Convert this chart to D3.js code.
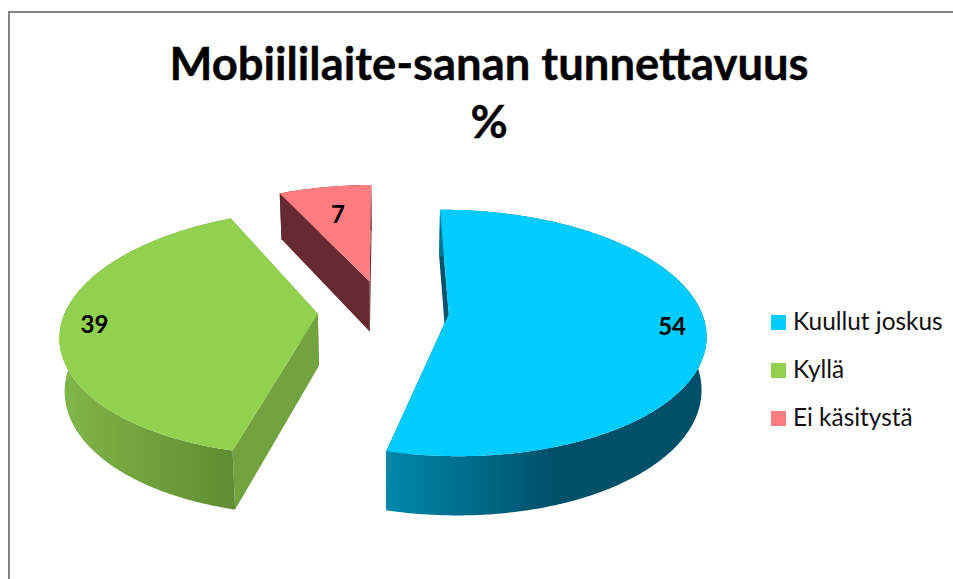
<!DOCTYPE html>
<html>
<head>
<meta charset="utf-8">
<script src="https://cdn.jsdelivr.net/npm/d3@7"></script>
<style>
  html, body { margin: 0; padding: 0; background: #fff; overflow: hidden; }
  text { font-family: Lato, "Open Sans", sans-serif; }
</style>
</head>
<body>
<div id="chart"></div>
<script>
const WIDTH = 953
const HEIGHT = 579

const titleLines = ["Mobiililaite-sanan tunnettavuus", "%"]
const categories = ["Kuullut joskus", "Kyllä", "Ei käsitystä"]
const values = [54, 39, 7]

const topColors = ["#00CCFF", "#92D050", "#FF7C80"]
const edgeColors = ["#00536C", "#72A33E", "#652B30"]
const wallColors = [["#0089AB", "#00506A"], ["#80B547", "#5F8C32"], ["#652B30", "#652B30"]]
const wallStops = [[384, 555], [65, 236], [280, 375]]
const labelRadius = [0.87, 0.87, 0.68]

// fake 3d camera, tuned by eye against the picture
const HORIZON = -474   // y of the vanishing line
const DEPTH = 6.58     // distance to pie centre, in pie radii
const K = 5162
const FOCAL = 1660
const VIEW_X = 396
const CENTER_X = -0.05
const EXPLODE = 0.26
const ROTATION = -0.008

function project(X, Z) {
  const z = DEPTH + Z
  return [VIEW_X + FOCAL * (X + CENTER_X) / z, HORIZON + K / z]
}

// drop a top point down to the pie's underside
function dropPoint(p) {
  return [p[0] + (390 - p[0]) * 0.016, p[1] + 36 + 0.051 * p[1]]
}

const svg = d3.select("#chart").append("svg")
  .attr("width", WIDTH)
  .attr("height", HEIGHT)

const defs = svg.append("defs")
const line = d3.line()

svg.append("path")
  .attr("d", `M9,${HEIGHT}V12H${WIDTH}`)
  .attr("fill", "none")
  .attr("stroke", "#868686")
  .attr("stroke-width", 2)

svg.selectAll(".title")
  .data(titleLines)
  .enter()
  .append("text")
  .attr("class", "title")
  .attr("x", 489)
  .attr("y", (d, i) => 80 + i * 58)
  .attr("text-anchor", "middle")
  .attr("font-size", 45.4)
  .attr("font-weight", 700)
  .attr("fill", "#000")
  .attr("stroke", "#000")
  .attr("stroke-width", 0.4)
  .text(d => d)

const color = d3.scaleOrdinal().domain(categories).range(topColors)

const pie = d3.pie().sort(null)
  .startAngle(ROTATION)
  .endAngle(2 * Math.PI + ROTATION)

const slices = pie(values).map((s, i) => {
  const mid = (s.startAngle + s.endAngle) / 2
  const ox = EXPLODE * Math.sin(mid)
  const oz = EXPLODE * Math.cos(mid)
  const at = (a, r) => project(ox + r * Math.sin(a), oz + r * Math.cos(a))
  const angles = d3.range(s.startAngle, s.endAngle, 0.01).concat(s.endAngle)
  return { i, mid, at, apex: at(0, 0), rim: angles.map(a => at(a, 1)) }
})

// back to front so the big slices sit on top
const drawOrder = [2, 1, 0]

drawOrder.forEach(idx => {
  const s = slices[idx]
  const g = svg.append("g").attr("class", "slice")
  const rimBottom = s.rim.map(dropPoint).reverse()

  const grad = defs.append("linearGradient")
    .attr("id", `wall${idx}`)
    .attr("gradientUnits", "userSpaceOnUse")
    .attr("x1", wallStops[idx][0])
    .attr("x2", wallStops[idx][1])
    .attr("y1", 0)
    .attr("y2", 0)
  grad.append("stop").attr("offset", 0).attr("stop-color", wallColors[idx][0])
  grad.append("stop").attr("offset", 1).attr("stop-color", wallColors[idx][1])

  const ends = [s.rim[0], s.rim[s.rim.length - 1]]
  ends.forEach(p => {
    g.append("path")
      .attr("d", line([s.apex, p, dropPoint(p), dropPoint(s.apex)]) + "Z")
      .attr("fill", edgeColors[idx])
  })

  g.append("path")
    .attr("d", line(s.rim.concat(rimBottom)) + "Z")
    .attr("fill", `url(#wall${idx})`)

  g.append("path")
    .attr("d", line([s.apex].concat(s.rim)) + "Z")
    .attr("fill", color(categories[idx]))
})

slices.forEach((s, i) => {
  const p = s.at(s.mid, labelRadius[i])
  svg.append("text")
    .attr("class", "label")
    .attr("x", p[0])
    .attr("y", p[1])
    .attr("dy", "0.35em")
    .attr("text-anchor", "middle")
    .attr("font-size", 24)
    .attr("font-weight", 700)
    .attr("fill", "#000")
    .text(values[i])
})

const legend = svg.selectAll(".legend")
  .data(categories)
  .enter()
  .append("g")
  .attr("class", "legend")
  .attr("transform", (d, i) => `translate(771, ${315 + i * 48})`)

legend.append("rect")
  .attr("width", 15)
  .attr("height", 15)
  .attr("fill", d => color(d))

legend.append("text")
  .attr("x", 22)
  .attr("y", 15)
  .attr("font-size", 24.4)
  .attr("fill", "#111")
  .text(d => d)
</script>
</body>
</html>
